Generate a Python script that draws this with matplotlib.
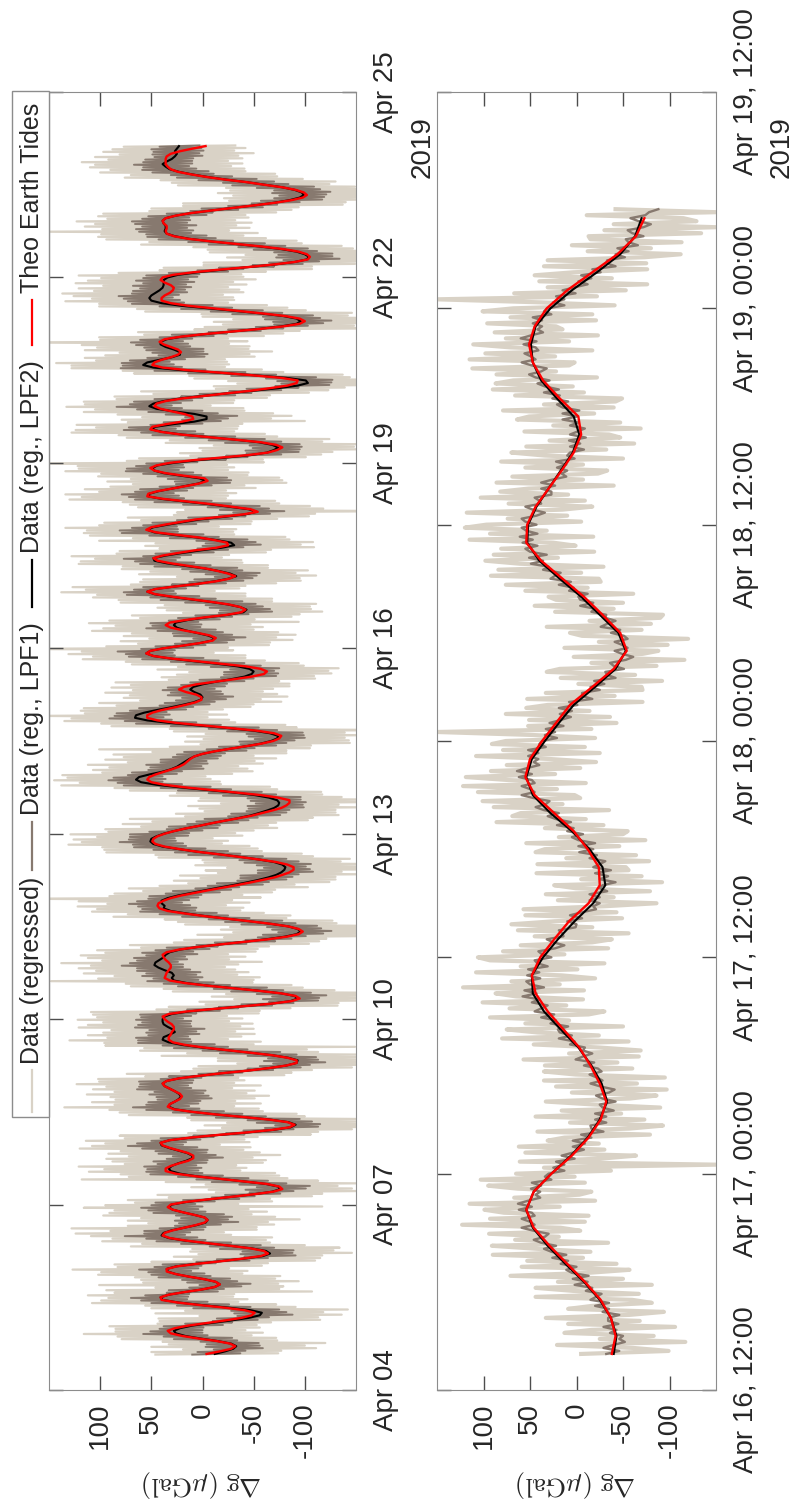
import numpy as np
import matplotlib
matplotlib.use("Agg")
import matplotlib.pyplot as plt
from matplotlib.lines import Line2D
from matplotlib.patches import Rectangle

plt.rcParams["font.family"] = ["Liberation Sans", "DejaVu Sans"]
plt.rcParams["axes.unicode_minus"] = False
plt.rcParams["mathtext.fontset"] = "cm"

LIGHT = "#d9d2c6"
DARK = "#87796f"
AXCOL = "#8c8c8c"
TXT = "#262626"

# ---- full record, hourly, hours since 2019-04-04 00:00 ----
FIRST_HOUR = 14
tide = np.array([
    -4, -17, -28, -32, -27, -14, 4, 20, 31, 34,
    27, 14, -4, -22, -38, -48, -51, -41, -21, 3,
    25, 40, 41, 33, 18, 1, -12, -17, -13, -2,
    13, 26, 35, 35, 25, 5, -18, -39, -57, -64,
    -60, -47, -27, -5, 16, 32, 39, 37, 29, 18,
    7, -2, -5, -2, 8, 19, 29, 34, 31, 17,
    -5, -28, -50, -69, -78, -75, -63, -40, -17, 7,
    26, 36, 36, 31, 23, 14, 9, 9, 14, 23,
    32, 39, 41, 32, 12, -14, -43, -68, -85, -90,
    -83, -65, -40, -13, 10, 28, 34, 32, 27, 22,
    20, 22, 27, 32, 37, 39, 35, 23, 3, -19,
    -44, -65, -82, -92, -92, -83, -68, -46, -23, -1,
    17, 29, 33, 33, 31, 30, 28, 28, 30, 34,
    37, 39, 33, 15, -12, -40, -67, -87, -95, -91,
    -77, -55, -30, -5, 17, 32, 37, 36, 35, 33,
    31, 31, 33, 36, 38, 39, 35, 23, 5, -17,
    -41, -64, -82, -94, -98, -94, -84, -67, -46, -24,
    -2, 17, 34, 42, 44, 43, 38, 31, 21, 8,
    -5, -19, -33, -46, -58, -70, -78, -85, -89, -89,
    -83, -72, -55, -36, -16, 5, 22, 37, 46, 49,
    48, 44, 37, 28, 17, 4, -8, -21, -35, -48,
    -58, -68, -77, -82, -85, -85, -74, -57, -33, -8,
    17, 37, 50, 54, 52, 46, 38, 30, 23, 18,
    15, 12, 8, 0, -12, -27, -43, -58, -69, -75,
    -77, -70, -53, -28, -2, 25, 44, 54, 54, 49,
    40, 28, 17, 7, 1, 1, 6, 16, 23, 18,
    6, -12, -31, -48, -60, -63, -57, -42, -18, 7,
    30, 48, 55, 51, 38, 20, 3, -10, -13, -7,
    5, 19, 31, 36, 32, 16, -2, -24, -38, -42,
    -37, -26, -9, 10, 29, 46, 54, 46, 27, 5,
    -13, -26, -32, -25, -15, -3, 14, 31, 44, 48,
    39, 24, 8, -13, -25, -24, -12, 3, 24, 45,
    55, 50, 37, 22, 7, -17, -40, -54, -47, -28,
    -8, 15, 38, 54, 53, 44, 30, 16, 3, -5,
    -2, 18, 36, 47, 51, 45, 32, 10, -17, -44,
    -64, -73, -78, -72, -57, -32, -5, 21, 40, 51,
    49, 36, 20, 9, 10, 18, 30, 41, 47, 45,
    36, 20, -2, -24, -47, -66, -83, -92, -93, -77,
    -49, -18, 15, 39, 49, 47, 40, 31, 24, 21,
    24, 31, 38, 42, 37, 21, -2, -29, -56, -79,
    -95, -100, -95, -81, -59, -35, -10, 14, 31, 40,
    40, 37, 32, 29, 28, 31, 37, 41, 39, 29,
    9, -16, -44, -69, -90, -103, -105, -102, -94, -79,
    -58, -33, -8, 14, 28, 35, 36, 35, 35, 38,
    39, 36, 26, 11, -9, -30, -51, -71, -87, -98,
    -102, -99, -91, -78, -60, -43, -22, -4, 11, 24,
    31, 34, 36, 36, 36, 35, 31, 22, 10, -3,
])

lpf2 = np.array([
    -12, -22, -30, -33, -28, -15, 2, 17, 26, 28,
    22, 10, -8, -28, -45, -56, -58, -47, -25, 1,
    24, 39, 41, 33, 18, 1, -12, -17, -13, -2,
    13, 26, 34, 35, 26, 6, -17, -40, -59, -66,
    -62, -48, -27, -4, 17, 33, 40, 38, 30, 18,
    6, -3, -5, -2, 8, 19, 29, 33, 30, 16,
    -6, -28, -50, -68, -76, -74, -62, -40, -17, 6,
    22, 31, 33, 30, 24, 16, 10, 10, 15, 24,
    33, 40, 41, 32, 11, -15, -44, -69, -86, -91,
    -84, -66, -40, -13, 10, 27, 33, 32, 27, 23,
    21, 23, 27, 32, 37, 39, 35, 23, 3, -19,
    -44, -65, -82, -92, -93, -84, -68, -46, -22, 1,
    20, 33, 39, 38, 32, 27, 29, 34, 38, 39,
    39, 37, 30, 13, -12, -40, -67, -86, -93, -90,
    -77, -56, -31, -6, 15, 28, 30, 28, 30, 37,
    43, 47, 46, 42, 38, 36, 32, 22, 5, -17,
    -40, -62, -80, -92, -96, -93, -84, -67, -46, -24,
    -3, 15, 31, 38, 37, 40, 40, 34, 24, 11,
    -2, -15, -29, -42, -54, -64, -72, -77, -80, -81,
    -78, -70, -55, -37, -17, 5, 23, 39, 48, 51,
    50, 45, 38, 28, 17, 4, -8, -21, -34, -46,
    -55, -63, -70, -74, -75, -73, -65, -51, -30, -4,
    22, 45, 60, 65, 62, 52, 40, 31, 25, 21,
    17, 13, 8, 0, -12, -27, -43, -57, -67, -73,
    -74, -66, -50, -25, 3, 32, 54, 66, 65, 57,
    45, 32, 20, 9, 2, 0, 2, 8, 12, 9,
    0, -13, -28, -41, -48, -50, -46, -34, -14, 9,
    31, 48, 55, 51, 38, 20, 3, -9, -12, -5,
    6, 17, 25, 28, 26, 14, -4, -25, -40, -43,
    -37, -25, -8, 12, 31, 47, 54, 46, 27, 6,
    -12, -25, -33, -27, -16, -2, 17, 35, 47, 48,
    36, 20, 2, -18, -31, -28, -14, 5, 28, 47,
    54, 48, 34, 19, 3, -20, -42, -53, -45, -25,
    -5, 18, 40, 53, 52, 43, 30, 17, 4, -3,
    3, 21, 38, 47, 49, 44, 28, 5, -22, -47,
    -63, -70, -74, -68, -55, -32, -6, 20, 39, 50,
    46, 29, 8, -4, -4, 8, 28, 45, 52, 48,
    38, 22, 0, -24, -50, -74, -93, -103, -101, -82,
    -51, -16, 21, 48, 58, 54, 42, 30, 22, 22,
    28, 36, 41, 41, 35, 20, -3, -29, -55, -77,
    -92, -96, -92, -79, -57, -32, -5, 21, 40, 50,
    52, 50, 46, 42, 39, 38, 38, 38, 34, 24,
    5, -19, -45, -70, -90, -102, -104, -100, -92, -77,
    -56, -32, -8, 13, 27, 35, 37, 36, 36, 38,
    39, 36, 26, 11, -9, -30, -51, -70, -85, -95,
    -99, -97, -90, -78, -61, -43, -23, -5, 10, 23,
    32, 36, 39, 35, 30, 27, 25, 27, 25, 23,
])

# how far the raw (regressed) data reach above / below LPF2 within each hour
raw_hi = np.array([
    58, 72, 49, 83, 61, 54, 77, 66, 90, 57, 63, 81, 52, 70, 88, 59, 104, 64, 75, 55,
    84, 60, 51, 79, 68, 93, 58, 118, 71, 62, 53, 76, 65, 92, 57, 80, 67, 49, 87, 70,
    74, 58, 97, 63, 81, 55, 69, 86, 60, 110, 67, 56, 78, 62, 89, 72, 57, 83, 65, 50,
    79, 61, 94, 55, 70, 85, 59, 76, 135, 66, 58, 80, 63, 91, 52, 72, 84, 62, 77, 56,
    87, 68, 54, 82, 65, 96, 58, 74, 67, 89, 60, 77, 55, 85, 71, 64, 102, 54, 81, 62,
    69, 90, 59, 75, 57, 84, 66, 79, 53, 93, 65, 74, 86, 58, 78, 69, 108, 61, 83, 56,
    75, 63, 91, 55, 80, 70, 60, 87, 74, 58, 83, 66, 77, 96, 57, 73, 64, 89, 62, 81,
    54, 85, 69, 76, 60, 120, 72, 58, 86, 67, 78, 62, 92, 56, 74, 83, 63, 81, 55, 88,
    68, 80, 59, 97, 66, 75, 57, 84, 70, 61, 90, 58, 77, 65, 85, 53, 81, 145, 67, 75,
    60, 87, 71, 56, 82, 66, 94, 62, 77, 57, 85, 68, 55, 80, 63, 89, 73, 59, 83, 67,
    76, 58, 91, 64, 78, 56, 86, 70, 105, 63, 81, 61, 73, 88, 57, 77, 67, 83, 55, 75,
    64, 93, 60, 80, 70, 85, 58, 76, 66, 91, 56, 82, 69, 87, 61, 128, 75, 59, 84, 72,
    89, 63, 78, 57, 86, 67, 81, 62, 95, 58, 74, 84, 64, 92, 59, 77, 69, 87, 56, 80,
    70, 98, 61, 81, 73, 63, 90, 58, 83, 66, 86, 59, 76, 67, 150, 74, 60, 89, 64, 82,
    63, 91, 72, 57, 85, 77, 65, 94, 59, 78, 81, 62, 88, 70, 76, 56, 84, 68, 100, 64,
    73, 83, 58, 89, 67, 81, 61, 86, 72, 57, 92, 64, 79, 60, 87, 74, 115, 63, 82, 69,
    59, 86, 67, 77, 57, 93, 70, 78, 62, 88, 76, 60, 90, 65, 82, 58, 85, 73, 64, 96,
    67, 81, 61, 87, 72, 78, 150, 69, 84, 59, 85, 70, 77, 57, 91, 64, 80, 62, 89, 74,
    58, 94, 65, 83, 63, 75, 88, 60, 81, 67, 78, 62, 86, 72, 110, 61, 82, 69, 76, 90,
    64, 83, 57, 80, 70, 89, 62, 85, 73, 59, 87, 67, 77, 140, 65, 81, 60, 92, 63, 75,
    72, 85, 62, 79, 58, 88, 69, 80, 61, 84, 56, 76, 91, 64, 82, 59, 86, 74, 65, 97,
    77, 61, 83, 69, 89, 63, 80, 58, 85, 72, 65, 92, 60, 81, 75, 64, 118, 62, 79, 67,
    84, 57, 76, 86, 61, 80, 70, 89, 59, 74, 69, 82, 63, 55, 85, 73, 64, 81, 60, 77,
    58, 74, 66, 83, 62, 78, 56, 70, 63, 54,
])
raw_lo = np.array([
    62, 55, 81, 67, 92, 58, 74, 65, 85, 70, 78, 63, 59, 87, 68, 80, 60, 95, 66, 73,
    59, 83, 71, 64, 125, 76, 67, 57, 81, 69, 89, 65, 78, 61, 84, 70, 93, 75, 58, 80,
    66, 86, 73, 62, 79, 101, 68, 59, 83, 71, 76, 61, 90, 69, 56, 82, 74, 150, 65, 84,
    60, 79, 67, 85, 70, 58, 88, 73, 66, 81, 93, 68, 76, 63, 83, 78, 59, 86, 71, 64,
    80, 57, 87, 73, 65, 91, 69, 77, 115, 67, 75, 84, 60, 79, 69, 82, 64, 89, 59, 74,
    86, 66, 78, 61, 94, 70, 76, 58, 83, 68, 63, 81, 69, 88, 60, 77, 85, 67, 80, 150,
    70, 90, 64, 76, 83, 59, 79, 71, 87, 65, 78, 61, 85, 69, 74, 92, 66, 81, 58, 83,
    89, 73, 67, 81, 64, 78, 86, 62, 75, 69, 65, 82, 104, 68, 80, 61, 84, 76, 70, 87,
    74, 59, 80, 85, 66, 89, 71, 64, 81, 58, 83, 75, 68, 78, 60, 86, 69, 91, 63, 79,
    69, 88, 61, 82, 76, 66, 83, 59, 135, 73, 81, 65, 89, 71, 80, 63, 77, 85, 67, 76,
    60, 84, 70, 78, 90, 68, 64, 82, 74, 87, 75, 67, 83, 59, 79, 96, 71, 66, 86, 69,
    88, 63, 77, 73, 65, 81, 89, 75, 60, 80, 68, 85, 58, 82, 70, 78, 63, 87, 76, 66,
    82, 73, 150, 67, 84, 64, 80, 71, 89, 62, 65, 79, 70, 86, 59, 83, 75, 67, 81, 94,
    85, 62, 82, 68, 78, 73, 87, 65, 80, 70, 73, 90, 66, 81, 63, 85, 69, 79, 60, 86,
    80, 67, 84, 75, 120, 65, 83, 70, 77, 63, 68, 86, 60, 80, 73, 89, 66, 82, 69, 78,
    84, 70, 78, 64, 87, 62, 81, 74, 85, 67, 62, 82, 69, 91, 65, 80, 71, 86, 59, 77,
    87, 64, 81, 67, 76, 84, 68, 145, 73, 80, 70, 89, 63, 78, 85, 66, 82, 58, 86, 75,
    78, 65, 83, 72, 80, 68, 88, 64, 79, 69, 64, 80, 74, 87, 62, 92, 67, 81, 70, 84,
    81, 68, 108, 63, 83, 77, 69, 85, 60, 78, 69, 85, 66, 80, 73, 65, 89, 75, 82, 62,
    86, 63, 79, 70, 84, 78, 64, 81, 68, 90, 73, 82, 67, 85, 60, 80, 76, 66, 130, 71,
    66, 83, 75, 63, 89, 69, 78, 84, 65, 81, 82, 70, 86, 78, 64, 81, 68, 90, 74, 62,
    67, 88, 62, 79, 71, 85, 76, 67, 83, 70, 80, 65, 84, 75, 67, 89, 63, 82, 69, 86,
    71, 81, 68, 83, 78, 64, 86, 70, 79, 66, 85, 67, 80, 71, 63, 87, 75, 68, 81, 65,
    73, 64, 78, 60, 69, 62, 75, 58, 67, 55,
])
# how far the LPF1 data reach above / below LPF2 within each hour
lpf1_hi = np.array([
    22, 27, 19, 30, 24, 17, 26, 21, 32, 23, 20, 28, 25, 18, 31, 22, 27, 19, 34, 24,
    26, 21, 29, 23, 17, 32, 25, 20, 28, 22, 30, 24, 19, 27, 21, 33, 23, 26, 18, 29,
    23, 31, 20, 25, 28, 22, 36, 19, 27, 24, 21, 26, 32, 23, 18, 29, 24, 27, 20, 30,
    25, 19, 28, 22, 34, 21, 26, 31, 23, 18, 29, 24, 21, 27, 20, 32, 25, 19, 28, 22,
    26, 33, 23, 18, 30, 24, 21, 29, 25, 20, 31, 22, 27, 24, 19, 28, 35, 23, 26, 21,
    24, 29, 20, 32, 25, 22, 27, 18, 30, 23, 28, 21, 26, 23, 33, 20, 24, 29, 22, 27,
    19, 30, 24, 27, 21, 28, 23, 32, 25, 20, 26, 23, 31, 19, 27, 24, 29, 21, 34, 22,
    24, 28, 20, 30, 23, 26, 18, 31, 25, 27, 21, 32, 25, 22, 29, 19, 27, 24, 30, 23,
    28, 20, 26, 33, 22, 25, 21, 29, 24, 18, 23, 27, 30, 21, 26, 32, 24, 19, 28, 25,
    31, 22, 24, 28, 20, 27, 35, 23, 26, 21, 25, 29, 19, 26, 31, 22, 25, 28, 20, 30,
    22, 26, 33, 24, 18, 29, 23, 27, 32, 21, 27, 20, 25, 30, 23, 26, 21, 31, 24, 28,
    19, 32, 23, 27, 25, 21, 29, 22, 26, 34, 24, 28, 21, 25, 30, 23, 27, 20, 31, 22,
    29, 23, 26, 19, 28, 33, 22, 25, 21, 27, 26, 30, 22, 28, 24, 20, 32, 23, 27, 25,
    21, 25, 31, 23, 27, 29, 19, 26, 30, 22, 28, 24, 20, 32, 22, 26, 24, 29, 21, 33,
    23, 27, 30, 21, 25, 19, 28, 32, 24, 26, 30, 22, 25, 29, 20, 27, 23, 21, 31, 24,
    25, 33, 21, 24, 28, 22, 30, 26, 19, 29, 22, 26, 29, 23, 31, 25, 20, 27, 24, 32,
    27, 21, 24, 30, 22, 34, 26, 23, 28, 20, 24, 29, 26, 19, 27, 23, 31, 25, 22, 30,
    31, 23, 20, 28, 25, 21, 27, 32, 26, 24, 20, 28, 25, 22, 33, 26, 23, 29, 21, 27,
    26, 22, 30, 24, 21, 28, 25, 19, 32, 23, 29, 25, 21, 27, 24, 31, 22, 26, 28, 20,
    23, 30, 26, 32, 20, 25, 29, 24, 21, 27, 27, 21, 24, 29, 26, 22, 33, 23, 30, 25,
    22, 27, 31, 20, 28, 24, 26, 21, 29, 23, 25, 32, 23, 26, 22, 30, 20, 27, 24, 31,
    28, 24, 29, 21, 25, 23, 32, 26, 22, 27, 21, 26, 22, 30, 27, 20, 25, 29, 23, 28,
    30, 23, 27, 24, 21, 31, 26, 22, 28, 25, 24, 29, 20, 25, 32, 23, 27, 30, 21, 26,
    27, 22, 28, 23, 26, 20, 24, 21, 25, 19,
])
lpf1_lo = np.array([
    25, 20, 29, 23, 27, 19, 31, 22, 26, 28, 23, 30, 21, 26, 20, 32, 24, 28, 22, 27,
    29, 24, 27, 20, 33, 22, 26, 30, 21, 25, 21, 28, 23, 31, 25, 19, 29, 24, 32, 22,
    27, 22, 30, 24, 20, 28, 23, 26, 31, 21, 24, 32, 20, 27, 29, 22, 25, 33, 23, 28,
    30, 23, 26, 21, 25, 31, 20, 24, 28, 26, 22, 27, 32, 24, 28, 21, 30, 23, 19, 29,
    28, 21, 25, 30, 22, 26, 33, 20, 27, 24, 23, 29, 22, 26, 31, 24, 20, 28, 25, 32,
    27, 24, 30, 21, 23, 29, 26, 22, 33, 20, 25, 31, 23, 28, 20, 27, 24, 30, 22, 26,
    32, 22, 27, 24, 29, 21, 31, 23, 26, 28, 20, 26, 24, 30, 23, 28, 22, 27, 21, 31,
    29, 23, 32, 21, 26, 24, 30, 22, 28, 25, 24, 28, 22, 27, 21, 31, 23, 29, 20, 26,
    31, 25, 21, 26, 30, 23, 28, 24, 32, 22, 22, 29, 24, 32, 25, 20, 27, 30, 23, 28,
    26, 21, 30, 23, 28, 24, 22, 31, 25, 20, 28, 24, 27, 22, 20, 30, 26, 23, 29, 25,
    23, 31, 25, 28, 32, 21, 27, 24, 20, 30, 27, 22, 29, 24, 26, 23, 31, 21, 28, 24,
    30, 25, 21, 29, 23, 27, 20, 32, 24, 26, 21, 28, 26, 22, 31, 24, 29, 25, 23, 27,
    25, 32, 23, 30, 21, 26, 24, 28, 33, 22, 29, 23, 27, 21, 25, 30, 22, 26, 24, 31,
    24, 28, 22, 31, 26, 20, 29, 23, 27, 25, 32, 21, 26, 24, 29, 23, 27, 22, 30, 24,
    26, 30, 23, 27, 22, 31, 25, 20, 28, 23, 22, 27, 31, 25, 28, 21, 26, 30, 23, 29,
    28, 24, 20, 29, 23, 32, 25, 27, 21, 26, 25, 31, 27, 22, 26, 24, 30, 21, 29, 23,
    30, 23, 28, 25, 32, 22, 24, 27, 20, 31, 23, 27, 22, 30, 24, 28, 21, 26, 31, 25,
    27, 20, 29, 24, 31, 25, 23, 28, 22, 30, 31, 25, 23, 27, 22, 29, 26, 21, 32, 24,
    24, 29, 26, 21, 30, 23, 28, 25, 22, 27, 28, 22, 32, 24, 27, 20, 31, 23, 26, 29,
    21, 26, 24, 28, 30, 22, 25, 32, 27, 23, 29, 24, 27, 22, 25, 31, 21, 28, 24, 26,
    26, 30, 23, 29, 21, 27, 24, 31, 22, 28, 23, 27, 31, 25, 28, 22, 30, 24, 29, 21,
    30, 21, 25, 28, 24, 32, 23, 27, 20, 26, 25, 29, 22, 26, 31, 24, 28, 21, 30, 23,
    27, 23, 30, 21, 26, 29, 22, 25, 32, 24, 22, 28, 25, 31, 23, 27, 30, 24, 21, 29,
    26, 23, 29, 25, 21, 27, 22, 28, 24, 20,
])

hours = FIRST_HOUR + np.arange(len(tide))

# ---- zoomed window, starts Apr 16 14:00, one value every 10 min ----
ZOOM_START = 302
zoom_raw = [
    -5, -99, -61, 21, -117, -25, -83, 13, -16, -106, 9, -68,
    33, -57, -94, 9, -17, -81, -60, 44, -67, 4, 44, -81,
    20, -50, 71, -13, -57, 59, -43, 53, -7, 90, -15, 43,
    91, -34, 66, 19, 94, -4, 17, 123, -9, 93, -13, 78,
    99, 18, 115, -20, 67, -3, -16, 63, 95, -9, 103, 2,
    65, -37, 35, -150, 61, -26, -64, 55, -30, 62, -24, 31,
    13, -79, 42, -57, -93, 7, -73, 44, -48, 16, -90, -20,
    33, -57, -86, 5, -97, 22, -65, 35, -95, 1, 35, -60,
    34, -44, 57, -67, 8, -69, -24, 46, -56, 80, -24, 42,
    75, -50, 55, 8, 93, -13, -30, 72, 11, 101, -7, 65,
    87, -8, 122, 18, 70, -20, 16, 108, -1, 60, -30, 93,
    106, 13, 79, -34, 60, -17, -38, 45, -56, 63, -17, 70,
    24, -49, 55, -43, 57, -30, -86, 20, -40, 33, -79, 1,
    24, -92, -5, -70, 43, -56, -53, 42, -78, 11, -64, 44,
    34, -46, 54, -74, 19, -50, -55, 34, -29, 86, -10, 69,
    60, -35, 89, 15, 101, -4, 2, 106, 21, 122, -10, 73,
    119, 23, 92, -4, 75, -21, 28, 108, -25, 79, -9, 91,
    76, -20, 47, 150, -16, 52, -43, 51, -36, 76, -14, 54,
    31, -71, 53, -41, 33, -71, -70, -2, -92, 17, -63, 32,
    18, -86, -16, -116, 3, -71, -88, 13, -98, -24, -120, -6,
    7, -70, 32, -80, -14, -90, -93, 23, -40, 45, -50, 22,
    30, -61, 55, -12, 76, -26, -24, 92, -5, 84, -29, 61,
    98, 20, 89, -19, 81, 1, 25, 115, -18, 93, 32, 120,
    97, -5, 74, 10, 118, 15, -17, 73, -9, 103, 9, 82,
    52, -40, 86, -7, 69, -23, -33, 55, -7, 81, -50, 34,
    70, -32, 54, -62, 29, -47, -35, 56, -69, 25, -47, 64,
    51, -19, 79, -40, 35, -42, -49, 66, -8, 90, 4, 87,
    68, -22, 86, 22, 112, 8, 2, 115, 23, 98, -17, 71,
    111, 8, 76, -23, 88, 15, 22, 96, -21, 71, -17, 101,
    68, -41, 40, 150, -22, 67, -53, 31, -76, 40, -38, 45,
    3, -76, 35, -75, 31, -73, -112, -12, -80, 5, -113, -15,
    -13, -134, -30, -150, -40, -129, -115, -11, -150, -42,
]
zoom_lpf1 = [
    -32, -46, -29, -40, -52, -46, -50, -36, -43, -29, -45, -34,
    -34, -46, -28, -35, -20, -35, -15, -21, -27, -10, -17, 2,
    -12, 4, -13, 5, 11, 0, 17, 9, 26, 11, 27, 35,
    22, 38, 46, 34, 30, 46, 59, 45, 50, 59, 45, 48,
    62, 48, 63, 52, 39, 44, 39, 49, 38, 48, 27, 34,
    30, 13, 25, 13, 22, 2, 16, 4, -8, 4, -9, 4,
    -16, -5, -29, -16, -15, -32, -20, -32, -20, -40, -28, -25,
    -42, -28, -21, -35, -41, -26, -15, -28, -22, -14, -27, -23,
    -8, -19, 1, -7, -17, -7, -9, 7, 2, 19, 5, 18,
    20, 9, 28, 22, 38, 24, 45, 38, 31, 48, 40, 58,
    43, 56, 35, 50, 54, 39, 53, 40, 52, 31, 42, 45,
    27, 37, 41, 23, 13, 25, 32, 14, 15, 19, 1, 0,
    10, -6, 7, -6, -21, -18, -25, -14, -25, -14, -33, -25,
    -28, -42, -25, -34, -20, -37, -18, -25, -31, -14, -22, -3,
    -18, -2, -20, -2, 5, -7, 10, 3, 21, 6, 22, 31,
    19, 35, 44, 33, 29, 46, 59, 45, 50, 59, 45, 48,
    62, 48, 64, 53, 40, 46, 41, 52, 41, 52, 33, 40,
    37, 21, 34, 23, 33, 14, 29, 17, 6, 18, 5, 19,
    -1, 8, -17, -6, -6, -25, -15, -30, -19, -42, -33, -31,
    -51, -40, -36, -53, -61, -49, -41, -55, -49, -41, -55, -51,
    -37, -47, -26, -33, -42, -31, -32, -16, -20, -4, -18, -4,
    -2, -12, 8, 3, 19, 6, 28, 23, 17, 36, 30, 49,
    36, 51, 32, 50, 55, 42, 58, 47, 61, 42, 54, 59,
    43, 55, 59, 43, 34, 47, 55, 38, 40, 45, 27, 27,
    38, 23, 38, 26, 11, 16, 10, 21, 11, 22, 2, 10,
    7, -8, 7, -4, 8, -10, 7, -1, -9, 7, -2, 15,
    -1, 15, -3, 15, 21, 9, 26, 18, 35, 19, 34, 42,
    29, 44, 51, 38, 32, 48, 59, 44, 49, 56, 41, 44,
    57, 43, 60, 49, 36, 42, 37, 47, 37, 47, 27, 35,
    31, 13, 25, 13, 22, 1, 15, 2, -12, -2, -16, -5,
    -26, -17, -42, -32, -33, -52, -42, -56, -44, -66, -56, -53,
    -72, -60, -55, -72, -80, -67, -58, -74, -78, -88,
]

day_ticks = np.arange(0, 505, 72)
day_labels = ["Apr 04", "Apr 07", "Apr 10", "Apr 13", "Apr 16", "Apr 19", "Apr 22", "Apr 25"]
zoom_ticks = np.arange(300, 373, 12)
zoom_labels = ["Apr 16, 12:00", "Apr 17, 00:00", "Apr 17, 12:00", "Apr 18, 00:00",
               "Apr 18, 12:00", "Apr 19, 00:00", "Apr 19, 12:00"]
dg_ticks = [100, 50, 0, -50, -100]
dg_labels = ["100", "50", "0", "-50", "-100"]

W, H = 796, 1505
fig = plt.figure(figsize=(W / 100, H / 100), dpi=100)


def px_box(x0, y0, x1, y1):
    return [x0 / W, 1 - y1 / H, (x1 - x0) / W, (y1 - y0) / H]


def style(ax, ticks, labels):
    ax.set_xlim(150, -150)
    ax.set_xticks(dg_ticks)
    ax.set_xticklabels(dg_labels, rotation=90)
    ax.set_yticks(ticks)
    ax.set_yticklabels(labels, rotation=90, va="center")
    ax.tick_params(axis="x", direction="in", top=True, bottom=True, length=10, width=1,
                   color="#4d4d4d", labelsize=20, pad=9, labelcolor=TXT)
    ax.tick_params(axis="y", direction="in", left=True, right=True, labelleft=False,
                   labelright=True, length=10, width=1, color="#4d4d4d", labelsize=20,
                   pad=12, labelcolor=TXT)
    for s in ax.spines.values():
        s.set_color(AXCOL)
    ax.text(0.5, -0.072, r"$\Delta \mathrm{g}\ (\mu \mathrm{Gal})$", transform=ax.transAxes,
            rotation=180, ha="center", va="center", fontsize=19, color=TXT)


# ---- full record ----
ax1 = fig.add_axes(px_box(49, 92, 356, 1390))
t_pair = np.column_stack([hours - 0.25, hours + 0.25]).ravel()
ax1.plot(np.column_stack([lpf2 + raw_hi, lpf2 - raw_lo]).ravel(), t_pair, color=LIGHT, lw=1.6, zorder=1)
ax1.plot(np.column_stack([lpf2 + lpf1_hi, lpf2 - lpf1_lo]).ravel(), t_pair, color=DARK, lw=1.4, zorder=2)
ax1.plot(lpf2, hours, color="black", lw=1.5, zorder=3)
ax1.plot(tide, hours, color="red", lw=1.7, zorder=4)
ax1.set_ylim(0, 504)
style(ax1, day_ticks, day_labels)
ax1.text(1.218, 0.9576, "2019", transform=ax1.transAxes, rotation=90, ha="center",
         va="center", fontsize=20, color=TXT)

# ---- zoom ----
ax2 = fig.add_axes(px_box(437, 92, 716, 1390))
t_zoom = ZOOM_START + np.arange(len(zoom_raw)) / 6
sel = (hours >= ZOOM_START) & (hours <= 365)
ax2.plot(zoom_raw, t_zoom, color=LIGHT, lw=3.0, zorder=1)
ax2.plot(zoom_lpf1, t_zoom, color=DARK, lw=1.7, zorder=2)
ax2.plot(lpf2[sel], hours[sel], color="black", lw=1.5, zorder=3)
ax2.plot(tide[sel], hours[sel], color="red", lw=1.7, zorder=4)
ax2.set_ylim(300, 372)
style(ax2, zoom_ticks, zoom_labels)
ax2.text(1.237, 0.9576, "2019", transform=ax2.transAxes, rotation=90, ha="center",
         va="center", fontsize=20, color=TXT)

# ---- legend (rotated, drawn by hand) ----
fig.add_artist(Rectangle((12 / W, 1 - 1117 / H), 37 / W, (1117 - 91) / H,
                         transform=fig.transFigure, facecolor="white", edgecolor=AXCOL, lw=1))
entries = [
    (LIGHT, 1112, 1070, 1064, "Data (regressed)"),
    (DARK, 870, 822, 815, "Data (reg., LPF1)"),
    ("black", 607, 560, 553, "Data (reg., LPF2)"),
    ("red", 345, 300, 293, "Theo Earth Tides"),
]
for col, y0, y1, ty, label in entries:
    fig.add_artist(Line2D([32 / W, 32 / W], [1 - y0 / H, 1 - y1 / H], transform=fig.transFigure,
                          color=col, lw=1.6))
    fig.text(32 / W, 1 - ty / H, label, rotation=90, rotation_mode="anchor", ha="left",
             va="center", fontsize=18, color=TXT)

fig.savefig("out.png", dpi=100)
